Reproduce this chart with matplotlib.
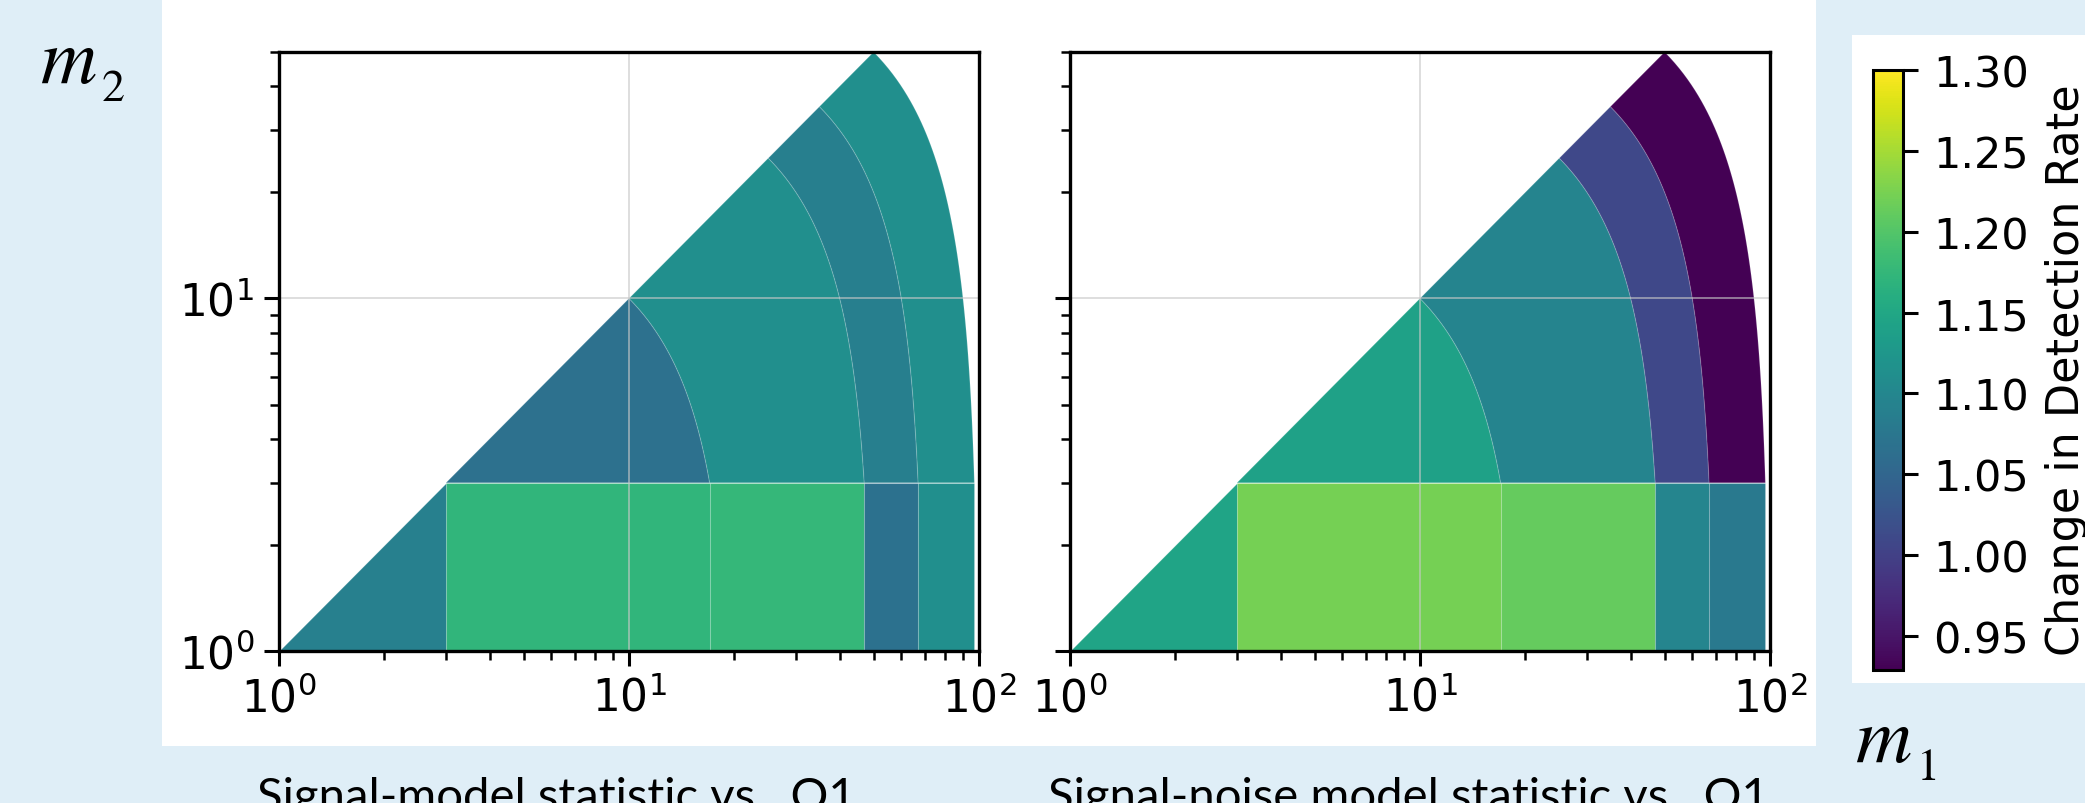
import numpy as np
import matplotlib.pyplot as plt
import matplotlib as mpl
from matplotlib.collections import PolyCollection
from matplotlib.patches import Rectangle

# bin layout in the (m1, m2) plane, solar masses
ns_max = 3.0
total_mass_edges = [6, 20, 50, 70, 100]

# change in detection rate: BNS corner, NSBH strip bins, BBH total-mass bins
signal_bns = 1.089
signal_nsbh = [1.172, 1.176, 1.068, 1.113]
signal_bbh = [1.066, 1.113, 1.087, 1.113]

noise_bns = 1.146
noise_nsbh = [1.222, 1.212, 1.098, 1.079]
noise_bbh = [1.142, 1.096, 1.009, 0.930]

captions = ["Signal-model statistic vs.  O1", "Signal-noise model statistic vs.  O1"]
cbar_ticks = [0.95, 1.00, 1.05, 1.10, 1.15, 1.20, 1.25, 1.30]
rate_min, rate_max = 0.929, 1.30

W, H = 2085, 804
BG = "#dfeef7"


def fx(px):
    return px / W


def fy(py):
    return (H - py) / H


def arc(total, m2_lo, m2_hi, n=80):
    m2 = np.geomspace(m2_lo, m2_hi, n)
    return np.column_stack([total - m2, m2])


def bin_polygons():
    polys = [np.array([[1, 1], [ns_max, 1], [ns_max, ns_max]])]
    for lo, hi in zip(total_mass_edges[:-1], total_mass_edges[1:]):
        polys.append(np.array([[lo - ns_max, 1], [hi - ns_max, 1],
                               [hi - ns_max, ns_max], [lo - ns_max, ns_max]]))
    for lo, hi in zip(total_mass_edges[:-1], total_mass_edges[1:]):
        outer = arc(hi, ns_max, hi / 2)
        inner = arc(lo, ns_max, lo / 2)[::-1]
        polys.append(np.vstack([outer, inner]))
    return polys


def mass_label(x, y, sub):
    fig.text(fx(x), fy(y), "m", family="STIXGeneral", style="italic",
             fontsize=56, ha="left", va="baseline")
    fig.text(fx(x + 62), fy(y + 18), sub, family="STIXGeneral",
             fontsize=33, ha="left", va="baseline")


cmap = mpl.colormaps["viridis"]
norm = mpl.colors.Normalize(rate_min, rate_max)

fig = plt.figure(figsize=(W / 100, H / 100), dpi=100, facecolor=BG)

# white backing panels
fig.patches.append(Rectangle((fx(162), fy(747)), fx(1816 - 162), 1 - fy(747),
                             transform=fig.transFigure, facecolor="white",
                             edgecolor="none", zorder=-2))
fig.patches.append(Rectangle((fx(1852), fy(684)), 1 - fx(1852), fy(36) - fy(684),
                             transform=fig.transFigure, facecolor="white",
                             edgecolor="none", zorder=-2))

panels = [
    (279, [signal_bns] + signal_nsbh + signal_bbh),
    (1070, [noise_bns] + noise_nsbh + noise_bbh),
]

for i, ((left, values), caption) in enumerate(zip(panels, captions)):
    ax = fig.add_axes([fx(left), fy(652), fx(700), fy(53) - fy(652)])
    ax.set_zorder(1)
    ax.set_xscale("log")
    ax.set_yscale("log")
    coll = PolyCollection(bin_polygons(), array=np.array(values), cmap=cmap, norm=norm,
                          edgecolors=(1, 1, 1, 0.15), linewidths=0.8, zorder=1)
    ax.add_collection(coll)
    ax.set_xlim(1, 100)
    ax.set_ylim(1, 50)
    ax.grid(True, which="major", color="#c8c8c8", alpha=0.6, lw=1.4)
    for sp in ax.spines.values():
        sp.set_linewidth(2.4)
    ax.tick_params(which="major", direction="out", length=11, width=2.2,
                   labelsize=31.5, pad=7)
    ax.tick_params(which="minor", direction="out", length=6.5, width=1.8)
    if i > 0:
        ax.tick_params(axis="y", which="both", labelleft=False)
    fig.text(fx(left - 22), fy(811), caption, family="Lato", fontsize=34,
             ha="left", va="baseline")

cax = fig.add_axes([fx(1873), fy(671), fx(30), fy(71) - fy(671)])
cax.set_zorder(1)
cb = fig.colorbar(mpl.cm.ScalarMappable(norm=norm, cmap=cmap), cax=cax,
                  ticks=cbar_ticks, format="%.2f")
cb.outline.set_linewidth(2.2)
cax.tick_params(length=11, width=2.2, labelsize=31, pad=11)
cax.minorticks_off()
fig.text(fx(2079), fy(370), "Change in Detection Rate", fontsize=32, rotation=90,
         rotation_mode="anchor", ha="center", va="baseline")

mass_label(40, 83, "2")
mass_label(1855, 762, "1")

fig.savefig("out.png", dpi=100, facecolor=BG)
